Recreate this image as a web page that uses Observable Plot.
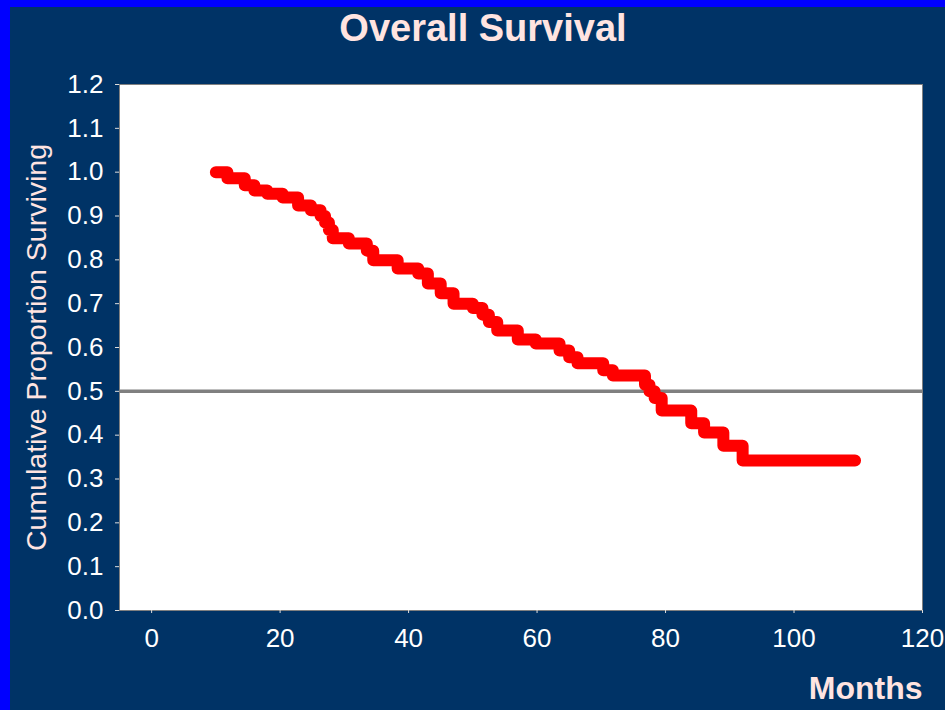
<!DOCTYPE html>
<html><head><meta charset="utf-8">
<script src="https://cdn.jsdelivr.net/npm/d3@7"></script>
<script src="https://cdn.jsdelivr.net/npm/@observablehq/plot@0.6"></script>
<style>
html,body{margin:0;padding:0;background:#0000ff;}
#page{position:absolute;left:0;top:0;width:945px;height:710px;background:#0000ff;overflow:hidden;}
#inner{position:absolute;left:10px;top:7px;width:935px;height:703px;background:#003366;}
#title{height:70px;line-height:70px;text-align:center;padding-left:11px;box-sizing:border-box;font:bold 38px "Liberation Sans",Arial,sans-serif;color:#ffe4e1;}
#chart svg{display:block;}
</style></head>
<body>
<div id="page"><div id="inner"><div id="title">Overall Survival</div><div id="chart"></div></div></div>
<script>
const months = [10, 11.8, 14.5, 16, 18, 20.4, 22.8, 24.8, 26.3, 27, 27.6, 28.2, 30.7, 33.5, 34.5, 38.3, 41.5, 43, 45, 47, 50, 51.5, 52.5, 53.8, 57, 59.8, 63.5, 65, 66.3, 70.3, 71.8, 76.8, 77.5, 78.3, 79.4, 84, 86, 89, 92, 109.5];
const surviving = [1.000, 0.986, 0.970, 0.958, 0.951, 0.942, 0.924, 0.913, 0.900, 0.885, 0.868, 0.849, 0.837, 0.821, 0.799, 0.780, 0.769, 0.746, 0.724, 0.700, 0.690, 0.675, 0.658, 0.639, 0.618, 0.609, 0.593, 0.578, 0.564, 0.548, 0.536, 0.515, 0.500, 0.485, 0.456, 0.427, 0.406, 0.376, 0.342, 0.342];
const xTicks = [0, 20, 40, 60, 80, 100, 120];
const yTicks = [0, 0.1, 0.2, 0.3, 0.4, 0.5, 0.6, 0.7, 0.8, 0.9, 1.0, 1.1, 1.2];
const referenceLevel = [0.5];
const xLabel = "Months";
const yLabel = "Cumulative Proportion Surviving";

const data = months.map((m, i) => ({month: m, surv: surviving[i]}));

const chart = Plot.plot({
  width: 935,
  height: 633,
  marginLeft: 109,
  marginRight: 23,
  marginTop: 7,
  marginBottom: 100,
  style: {background: "transparent", fontFamily: "'Liberation Sans', Arial, sans-serif", overflow: "visible"},
  x: {domain: [-5, 120]},
  y: {domain: [0, 1.2]},
  marks: [
    Plot.frame({fill: "white", stroke: null}),
    Plot.ruleY(referenceLevel, {stroke: "#808080", strokeWidth: 3.5}),
    Plot.line(data, {x: "month", y: "surv", curve: "step-after", stroke: "#ff0000", strokeWidth: 12, strokeLinejoin: "round", strokeLinecap: "round"}),
    Plot.frame({stroke: "#808080", strokeWidth: 1}),
    Plot.axisX({ticks: xTicks, tickFormat: d => String(d), tickSize: 3, tickPadding: 15, fontSize: 26, color: "white", stroke: "#dddddd", label: null}),
    Plot.axisY({ticks: yTicks, tickFormat: d3.format(".1f"), tickSize: 4, tickPadding: 12, fontSize: 26, color: "white", stroke: "#dddddd", label: null}),
    Plot.text([xLabel], {frameAnchor: "bottom-right", textAnchor: "end", lineAnchor: "middle", dy: 78, fontSize: 32, fontWeight: "bold", fill: "#ffe4e1"}),
    Plot.text([yLabel], {frameAnchor: "left", rotate: -90, textAnchor: "middle", lineAnchor: "middle", dx: -83, fontSize: 28.5, fill: "#ffe4e1"})
  ]
});
document.getElementById("chart").appendChild(chart);
</script>
</body></html>
